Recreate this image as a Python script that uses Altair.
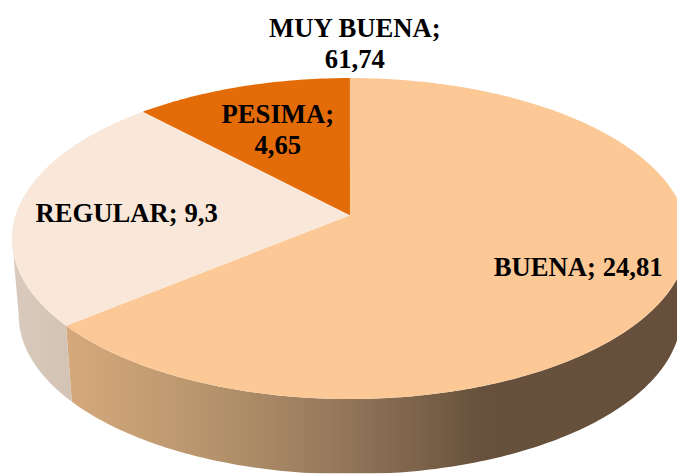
import math
import altair as alt
import pandas as pd

# Visible slices (percent of the circle, clockwise from 12 o'clock)
slice_names = ["big", "pale", "orange"]
slice_shares = [64.0, 24.0, 12.0]
slice_colors = ["#fbc896", "#f9e8d9", "#e36c09"]

label_lines = ["MUY BUENA;", "61,74", "PESIMA;", "4,65", "REGULAR; 9,3", "BUENA; 24,81"]
label_x = [359, 359, 281, 281, 128, 585]
label_y = [27, 58, 114, 145, 214, 268]

# Pie geometry (perspective view of a circle)
CX, CY = 354, 215
A, B, K = 338.4, 159.0, 0.1447
DEPTH, SHRINK, SHRINK_Y = 78, 0.98, 0.99


def top_point(share):
    a = share / 100 * 2 * math.pi
    x, y = math.sin(a), -math.cos(a)
    d = 1 - K * y
    return CX + A * x / d, CY + B * y / d


def bottom_point(share):
    px, py = top_point(share)
    return CX + (px - CX) * SHRINK, CY + DEPTH + (py - CY) * SHRINK_Y


def arc(start, end, fn, step=0.25):
    n = max(2, int(abs(end - start) / step))
    return [fn(start + (end - start) * i / n) for i in range(n + 1)]


def frame(points):
    return pd.DataFrame(
        {"x": [p[0] for p in points], "y": [p[1] for p in points], "i": range(len(points))}
    )


xs = alt.Scale(domain=[8, 685], range=[0, 677], nice=False, zero=False)
ys = alt.Scale(domain=[8, 476], range=[0, 468], nice=False, zero=False)


def poly(points, fill):
    return (
        alt.Chart(frame(points))
        .mark_line(filled=True, fill=fill, stroke=None, clip=True, interpolate="linear")
        .encode(
            x=alt.X("x:Q", scale=xs, axis=None),
            y=alt.Y("y:Q", scale=ys, axis=None),
            order="i:Q",
        )
    )


# Slice boundaries
b1 = slice_shares[0]
LEFT = 72.7   # share where the outline is leftmost
RIGHT = 27.3  # share where the outline is rightmost

big_wall = poly(
    arc(RIGHT, b1, top_point) + arc(b1, RIGHT, bottom_point),
    alt.Gradient(
        gradient="linear", x1=0, y1=0, x2=1, y2=0,
        stops=[
            alt.GradientStop(offset=0, color="#d6a97c"),
            alt.GradientStop(offset=0.22, color="#b8956d"),
            alt.GradientStop(offset=0.45, color="#93765a"),
            alt.GradientStop(offset=0.67, color="#67513c"),
            alt.GradientStop(offset=1, color="#66503c"),
        ],
    ),
)
pale_wall = poly(
    arc(b1, LEFT, top_point) + arc(LEFT, b1, bottom_point),
    alt.Gradient(
        gradient="linear", x1=0, y1=0, x2=1, y2=0,
        stops=[
            alt.GradientStop(offset=0, color="#d9cabd"),
            alt.GradientStop(offset=1, color="#d3c3b4"),
        ],
    ),
)

layers = [big_wall, pale_wall]
start = 0.0
for share, color in zip(slice_shares, slice_colors):
    pts = [(CX, CY)] + arc(start, start + share, top_point)
    layers.append(poly(pts, color))
    start += share

labels = pd.DataFrame({"t": label_lines, "x": label_x, "y": label_y})
text = (
    alt.Chart(labels)
    .mark_text(font="Liberation Serif", fontWeight="bold", fontSize=27, color="#000000", align="center", baseline="middle")
    .encode(
        x=alt.X("x:Q", scale=xs, axis=None),
        y=alt.Y("y:Q", scale=ys, axis=None),
        text="t:N",
    )
)

chart = (
    alt.layer(*layers, text)
    .properties(width=677, height=468, padding=0, autosize=alt.AutoSizeParams(type="none"), background="#ffffff")
    .configure_view(stroke=None)
)
chart.save("out.html", embed_options={"renderer": "svg", "actions": False})
